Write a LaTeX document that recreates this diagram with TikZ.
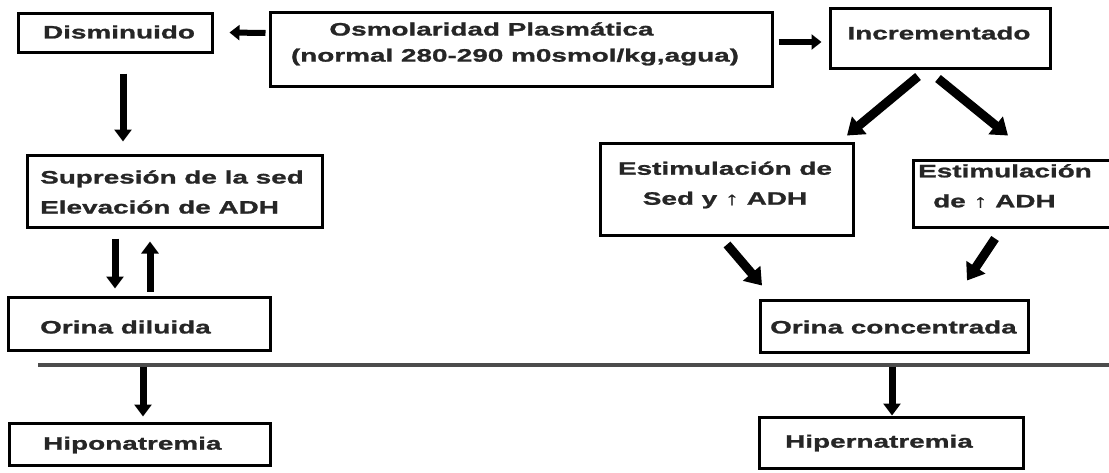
\documentclass[tikz,border=0pt]{standalone}
\usepackage{fontspec}
\newfontfamily\wfont{Liberation Sans}[FakeStretch=1.55, BoldFeatures={FakeBold=1.2}]
\usetikzlibrary{arrows.meta,calc}
\tikzset{
  box/.style={draw=black, line width=3pt, rectangle, inner sep=0pt, fill=white},
  txt/.style={inner sep=0pt, font=\wfont\bfseries\fontsize{18}{30}\selectfont, text=black!85},
  arr/.style={draw=black, line width=7pt, -{Triangle[width=17pt,length=12pt]}},
  thinarr/.style={draw=black, line width=6pt, -{Triangle[width=15pt,length=10pt]}},
  bigarr/.style={draw=black, line width=9pt, -{Triangle[width=22pt,length=16pt]}},
  sep/.style={draw=black!70, line width=3.5pt}
}
\begin{document}
\begin{tikzpicture}[x=1pt,y=-1pt]
\useasboundingbox (0,0) rectangle (1109,472);
\clip (0,0) rectangle (1109,472);
\fill[white] (0,0) rectangle (1109,472);
% boxes
\node[box, minimum width=194pt, minimum height=39pt] (dis) at (115,32.5) {};
\node[box, minimum width=502pt, minimum height=74pt] (osm) at (521,49) {};
\node[box, minimum width=220pt, minimum height=60pt] (inc) at (940,38) {};
\node[box, minimum width=253pt, minimum height=92pt] (sed) at (726.5,189) {};
\node[box, minimum width=207pt, minimum height=67pt] (adh) at (1016.5,193.5) {};
\node[box, minimum width=295pt, minimum height=72pt] (sup) at (174.5,191) {};
\node[box, minimum width=262pt, minimum height=53pt] (ord) at (139,323.5) {};
\node[box, minimum width=268pt, minimum height=52pt] (orc) at (894,326) {};
\node[box, minimum width=261pt, minimum height=42pt] (hipo) at (139.5,444) {};
\node[box, minimum width=264pt, minimum height=51pt] (hiper) at (891,442.5) {};
% texts
\node[txt] (disT) at (119,32) {Disminuido};
\node[txt] (osmT1) at (491.5,29) {Osmolaridad Plasmática};
\node[txt] (osmT2) at (515,57) {(normal 280-290 m0smol/kg,agua)};
\node[txt] (incT) at (939,33) {Incrementado};
\node[txt, align=center] (sedT) at (725,185) {Estimulación de\\Sed y ↑ ADH};
\node[txt, align=left, anchor=west] (adhT) at (918,186) {Estimulación\\\hspace*{15pt}de ↑ ADH};
\node[txt, align=left, anchor=west] (supT) at (40,192) {Supresión de la sed\\Elevación de ADH};
\node[txt, anchor=west] (ordT) at (40,327) {Orina diluida};
\node[txt, anchor=west] (orcT) at (770,327) {Orina concentrada};
\node[txt, anchor=west] (hipoT) at (43,445) {Hiponatremia};
\node[txt, anchor=west] (hiperT) at (785,443) {Hipernatremia};
% separator
\coordinate (sepL) at (38,365);
\coordinate (sepR) at (1112,365);
\draw[sep] (sepL) -- (sepR);
% connectors
\draw[thinarr] ($(osm.west)+(-3,-16)$) -- ($(dis.east)+(16,0)$);
\draw[thinarr] ($(osm.east)+(5,-7)$) -- ($(inc.west)+(-7,4)$);
\draw[arr] ($(dis.south)+(8,20)$) -- ($(sup.north)+(-51.5,-12)$);
\draw[bigarr] ($(inc.south)+(-22,7)$) -- ($(sed.north)+(120.5,-6)$);
\draw[bigarr] ($(inc.south)+(-2,9)$) -- ($(adh.north)+(-8.5,-23)$);
\draw[bigarr] ($(sed.south)+(0.5,8)$) -- ($(orc.north)+(-132,-13)$);
\draw[bigarr] ($(adh.south)+(-21.5,10)$) -- ($(orc.north)+(73,-18)$);
\draw[arr] ($(sup.south)+(-59.5,10)$) -- ($(ord.north)+(-24,-7)$);
\draw[arr] ($(ord.north)+(11,-4)$) -- ($(sup.south)+(-24.5,13)$);
\draw[arr] ($(ord.south)+(4,15)$) -- ($(hipo.north)+(3.5,-5)$);
\draw[arr] ($(orc.south)+(-2,13)$) -- ($(hiper.north)+(1,0)$);
\end{tikzpicture}
\end{document}
